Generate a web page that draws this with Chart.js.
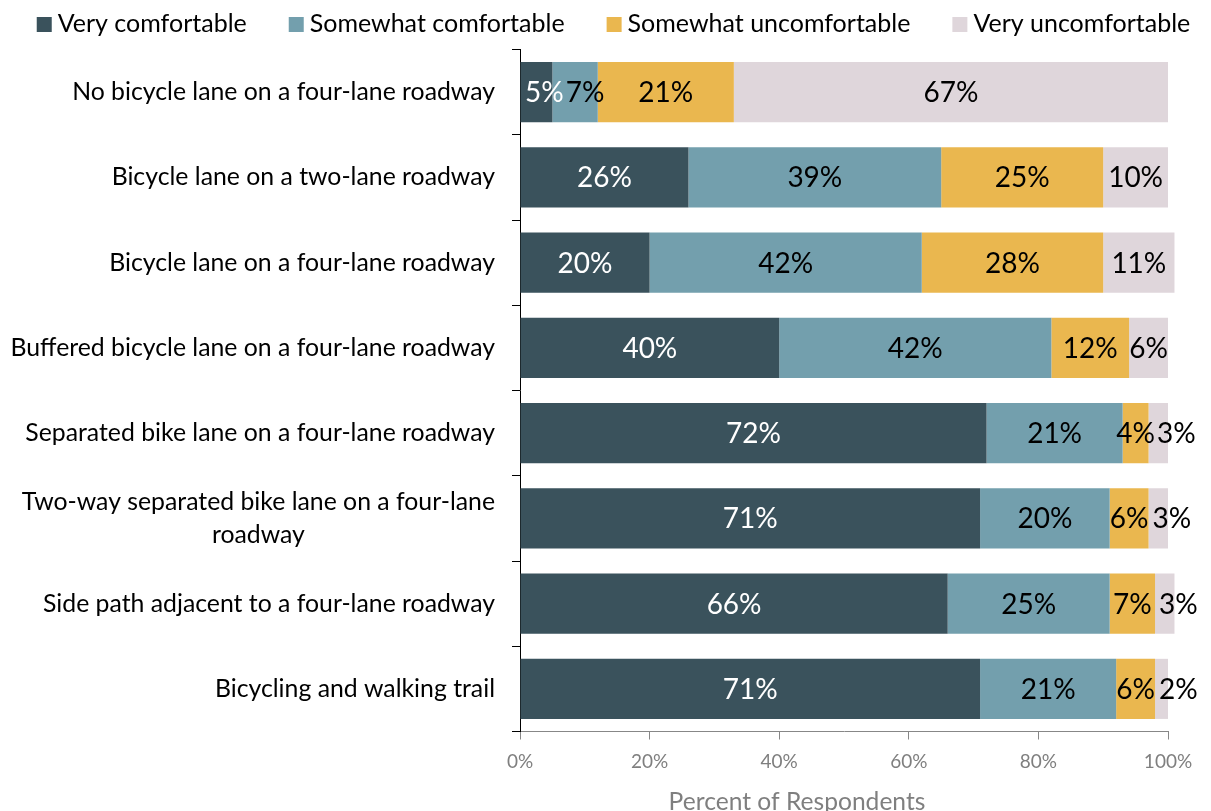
<!DOCTYPE html>
<html>
<head>
<meta charset="utf-8">
<script src="https://cdn.jsdelivr.net/npm/chart.js@4"></script>
<style>
  html, body { margin: 0; padding: 0; background: #ffffff; }
  #wrap { width: 1211px; height: 811px; }
</style>
</head>
<body>
<div id="wrap"><canvas id="c" width="1211" height="811"></canvas></div>
<script>
// Comfort level by facility type (percent of respondents)
const categories = [
  'No bicycle lane on a four-lane roadway',
  'Bicycle lane on a two-lane roadway',
  'Bicycle lane on a four-lane roadway',
  'Buffered bicycle lane on a four-lane roadway',
  'Separated bike lane on a four-lane roadway',
  ['Two-way separated bike lane on a four-lane', 'roadway'],
  'Side path adjacent to a four-lane roadway',
  'Bicycling and walking trail'
];
const seriesNames = ['Very comfortable', 'Somewhat comfortable', 'Somewhat uncomfortable', 'Very uncomfortable'];
const veryComfortable       = [5, 26, 20, 40, 72, 71, 66, 71];
const somewhatComfortable   = [7, 39, 42, 42, 21, 20, 25, 21];
const somewhatUncomfortable = [21, 25, 28, 12, 4, 6, 7, 6];
const veryUncomfortable     = [67, 10, 11, 6, 3, 3, 3, 2];
const xTicks = [0, 20, 40, 60, 80, 100];
const axisTitle = 'Percent of Respondents';

const seriesColors = ['#3a525c', '#739fad', '#eab74f', '#dfd6db'];
const FONT = 'Lato, "Open Sans", sans-serif';

// Percentage labels centred in each segment; narrow segments push their label right
const segmentLabels = {
  id: 'segmentLabels',
  afterDatasetsDraw(chart) {
    const ctx = chart.ctx;
    const area = chart.chartArea;
    const last = chart.data.datasets.length - 1;
    ctx.save();
    ctx.font = '28px ' + FONT;
    ctx.textBaseline = 'middle';
    ctx.textAlign = 'left';
    chart.data.labels.forEach((_, i) => {
      let prevRight = area.left + 5;
      chart.data.datasets.forEach((ds, d) => {
        const el = chart.getDatasetMeta(d).data[i];
        const text = ds.data[i] + '%';
        const w = ctx.measureText(text).width;
        const start = Math.min(el.x, el.base);
        const mid = (el.x + el.base) / 2;
        let left = Math.max(mid - w / 2, prevRight);
        if (d === last && Math.abs(el.x - el.base) < w) left = Math.max(left, start + 4);
        ctx.fillStyle = d === 0 ? '#ffffff' : '#000000';
        ctx.fillText(text, left, el.y + 1);
        prevRight = left + w + 2;
      });
    });
    ctx.restore();
  }
};

// Category names left of the axis; wrapped names are centred line by line
const categoryLabels = {
  id: 'categoryLabels',
  afterDraw(chart) {
    const ctx = chart.ctx;
    const y = chart.scales.y;
    ctx.save();
    ctx.font = '24.8px ' + FONT;
    ctx.fillStyle = '#000000';
    ctx.textBaseline = 'middle';
    const right = y.right - 25;
    const lh = 33;
    chart.data.labels.forEach((lab, i) => {
      const lines = Array.isArray(lab) ? lab : [lab];
      const yc = y.getPixelForValue(i);
      const maxW = Math.max(...lines.map(l => ctx.measureText(l).width));
      lines.forEach((l, k) => {
        const ly = yc + (k - (lines.length - 1) / 2) * lh;
        if (lines.length === 1) {
          ctx.textAlign = 'right';
          ctx.fillText(l, right, ly);
        } else {
          ctx.textAlign = 'center';
          ctx.fillText(l, right - maxW / 2, ly);
        }
      });
    });
    ctx.restore();
  }
};

// Legend row across the top and the horizontal axis title underneath
const legendAndTitle = {
  id: 'legendAndTitle',
  afterDraw(chart) {
    const ctx = chart.ctx;
    const area = chart.chartArea;
    ctx.save();
    ctx.font = '25px ' + FONT;
    ctx.textBaseline = 'alphabetic';
    ctx.textAlign = 'left';
    const box = 15, boxGap = 6, itemGap = 42;
    const items = chart.data.datasets.map(ds => ({
      text: ds.label, color: ds.backgroundColor, w: ctx.measureText(ds.label).width
    }));
    const total = items.reduce((s, it) => s + box + boxGap + it.w, 0) + itemGap * (items.length - 1);
    let x = chart.width / 2 - total / 2 + 8;
    items.forEach(it => {
      ctx.fillStyle = it.color;
      ctx.fillRect(x, 17, box, box);
      ctx.fillStyle = '#000000';
      ctx.fillText(it.text, x + box + boxGap, 32);
      x += box + boxGap + it.w + itemGap;
    });

    ctx.font = '24.6px ' + FONT;
    ctx.fillStyle = '#7f7f7f';
    ctx.textAlign = 'center';
    ctx.fillText(axisTitle, (area.left + area.right) / 2 - 47, 810);
    ctx.restore();
  }
};

const seriesValues = [veryComfortable, somewhatComfortable, somewhatUncomfortable, veryUncomfortable];

new Chart(document.getElementById('c'), {
  type: 'bar',
  data: {
    labels: categories,
    datasets: seriesNames.map((name, k) => ({
      label: name,
      data: seriesValues[k],
      backgroundColor: seriesColors[k],
      borderWidth: 0,
      barPercentage: 0.705,
      categoryPercentage: 1,
      clip: false
    }))
  },
  options: {
    indexAxis: 'y',
    responsive: false,
    animation: false,
    devicePixelRatio: 1,
    layout: { padding: { top: 49.5, right: 43, bottom: 26.7, left: 0 } },
    plugins: {
      legend: { display: false },
      tooltip: { enabled: false }
    },
    scales: {
      x: {
        type: 'linear',
        stacked: true,
        min: 0,
        max: 100,
        afterBuildTicks: s => { s.ticks = xTicks.map(v => ({ value: v })); },
        border: { color: '#878787', width: 1 },
        grid: { drawOnChartArea: false, tickLength: 8, color: '#878787' },
        ticks: {
          padding: 11,
          color: '#7f7f7f',
          font: { family: FONT, size: 19 },
          callback: v => v + '%'
        }
      },
      y: {
        type: 'category',
        stacked: true,
        offset: true,
        afterFit: s => { s.width = 520; },
        border: { color: '#000000', width: 1 },
        grid: { offset: true, drawOnChartArea: false, tickLength: 8, color: '#000000' },
        ticks: { display: false }
      }
    }
  },
  plugins: [segmentLabels, categoryLabels, legendAndTitle]
});
</script>
</body>
</html>
